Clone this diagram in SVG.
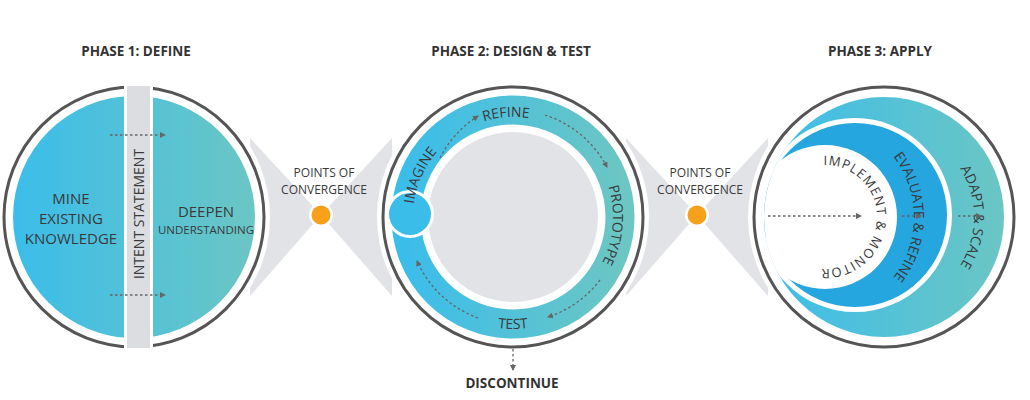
<svg xmlns="http://www.w3.org/2000/svg" width="1030" height="400" viewBox="0 0 1030 400">
<style>
text{font-family:"Open Sans","Liberation Sans",sans-serif;fill:#3a3a3a}
.h{font-weight:bold;font-size:13.5px;text-anchor:middle;fill:#333}
.t{font-size:14px}
.c{font-size:12px;text-anchor:middle}
.ring{fill:none;stroke:#555;stroke-width:3}
.gap{fill:#fff}
.dot{fill:none;stroke:#666;stroke-width:1.3;stroke-dasharray:2.5 2.5;marker-end:url(#ah)}
.bow{fill:#e2e3e7}
</style>
<defs>
<marker id="ah" viewBox="0 0 6 6" refX="5" refY="3" markerWidth="6" markerHeight="6" orient="auto" markerUnits="userSpaceOnUse"><path d="M0,0 L6,3 L0,6 Z" fill="#666"/></marker>
<linearGradient id="g" x1="0" x2="1" y1="0" y2="0"><stop offset="0" stop-color="#3bbdea"/><stop offset="1" stop-color="#6bc6c4"/></linearGradient>
<clipPath id="c1l"><rect x="0" y="0" width="124" height="400"/></clipPath>
<clipPath id="c1r"><rect x="153" y="0" width="200" height="400"/></clipPath>
<clipPath id="c3"><circle cx="884" cy="217" r="120"/></clipPath>
<path id="p2cw" d="M413,217 A100,100 0 1 1 613,217 A100,100 0 1 1 413,217"/>
<path id="p2ccw" d="M401,217 A112,112 0 0 0 625,217"/>
<path id="p3a" d="M884,127 A90,90 0 0 1 884,307"/>
<path id="p3e" d="M815,118 A99,99 0 0 1 815,316"/>
<path id="p3i" d="M773,217 A52,52 0 1 1 877,217 A52,52 0 1 1 773,217"/>
</defs>

<g id="convergence1">
<path class="bow" d="M250,138 L321,215 L250,296 Z M392,138 L321,215 L392,296 Z"/>
<circle cx="321" cy="215" r="12" fill="#fff"/>
<circle cx="321" cy="215" r="9.5" fill="#f7a11a"/>
<text class="c" x="324" y="177">POINTS OF</text>
<text class="c" x="324" y="194">CONVERGENCE</text>
</g>
<g id="convergence2">
<path class="bow" d="M626,138 L697,215 L626,296 Z M768,138 L697,215 L768,296 Z"/>
<circle cx="697" cy="215" r="12" fill="#fff"/>
<circle cx="697" cy="215" r="9.5" fill="#f7a11a"/>
<text class="c" x="700" y="177">POINTS OF</text>
<text class="c" x="700" y="194">CONVERGENCE</text>
</g>

<g id="phase1">
<text class="h" x="136" y="56">PHASE 1: DEFINE</text>
<circle class="gap" cx="134" cy="217" r="136"/>
<circle class="ring" cx="134" cy="217" r="130"/>
<circle cx="134" cy="217" r="121" fill="url(#g)" clip-path="url(#c1l)"/>
<circle cx="134" cy="217" r="121" fill="url(#g)" clip-path="url(#c1r)"/>
<rect x="124" y="80" width="29" height="275" fill="#fff"/>
<rect x="127" y="86" width="23" height="262" fill="#dcdde1"/>
<text text-anchor="middle" font-size="15" x="71" y="204">MINE</text>
<text text-anchor="middle" font-size="15" x="71" y="224">EXISTING</text>
<text text-anchor="middle" font-size="15" x="71" y="244">KNOWLEDGE</text>
<text text-anchor="middle" font-size="15" x="206" y="217">DEEPEN</text>
<text text-anchor="middle" font-size="11.5" x="206" y="234">UNDERSTANDING</text>
<text text-anchor="middle" font-size="14" transform="translate(144,214) rotate(-90)">INTENT STATEMENT</text>
</g>

<g id="phase2">
<text class="h" x="511" y="56">PHASE 2: DESIGN &amp; TEST</text>
<circle class="gap" cx="513" cy="217" r="136"/>
<circle class="ring" cx="513" cy="217" r="130"/>
<circle cx="513" cy="217" r="107" fill="none" stroke="url(#g)" stroke-width="29"/>
<circle cx="513" cy="217" r="85" fill="#e2e3e7"/>
<circle cx="410" cy="214" r="24" fill="#fff"/>
<circle cx="410" cy="214" r="21" fill="#3bbdea"/>
<text class="t"><textPath href="#p2cw" startOffset="42" text-anchor="middle">IMAGINE</textPath></text>
<text class="t"><textPath href="#p2cw" startOffset="150" text-anchor="middle">REFINE</textPath></text>
<text class="t"><textPath href="#p2cw" startOffset="322" text-anchor="middle">PROTOTYPE</textPath></text>
<text class="t"><textPath href="#p2ccw" startOffset="50%" text-anchor="middle">TEST</textPath></text>
<text class="h" x="512" y="388">DISCONTINUE</text>
</g>

<g id="phase3">
<text class="h" x="880" y="56">PHASE 3: APPLY</text>
<circle class="gap" cx="884" cy="217" r="136"/>
<circle class="ring" cx="884" cy="217" r="130"/>
<circle cx="884" cy="217" r="120" fill="url(#g)"/>
<g clip-path="url(#c3)">
<circle cx="855" cy="215" r="97" fill="#fff"/>
<circle cx="855" cy="215" r="92" fill="#25a6de"/>
<circle cx="825" cy="217" r="72" fill="#fff"/>
</g>
<text class="t"><textPath href="#p3a" startOffset="50%" text-anchor="middle">ADAPT &amp; SCALE</textPath></text>
<text class="t"><textPath href="#p3e" startOffset="50%" text-anchor="middle">EVALUATE &amp; REFINE</textPath></text>
<text font-size="13"><textPath href="#p3i" startOffset="80" textLength="168" lengthAdjust="spacing">IMPLEMENT &amp; MONITOR</textPath></text>
</g>

<g id="connectors">
<path class="dot" d="M110,135 H165"/>
<path class="dot" d="M110,295 H165"/>
<path class="dot" d="M440,158 A107,107 0 0 1 478,116"/>
<path class="dot" d="M545,115 A107,107 0 0 1 607,167"/>
<path class="dot" d="M600,280 A107,107 0 0 1 548,317"/>
<path class="dot" d="M478,318 A107,107 0 0 1 417,261"/>
<path class="dot" d="M513,349 V370"/>
<path class="dot" d="M768,216 H861"/>
<path class="dot" d="M902,216 H921"/>
<path class="dot" d="M958,216 H981"/>
</g>
</svg>
